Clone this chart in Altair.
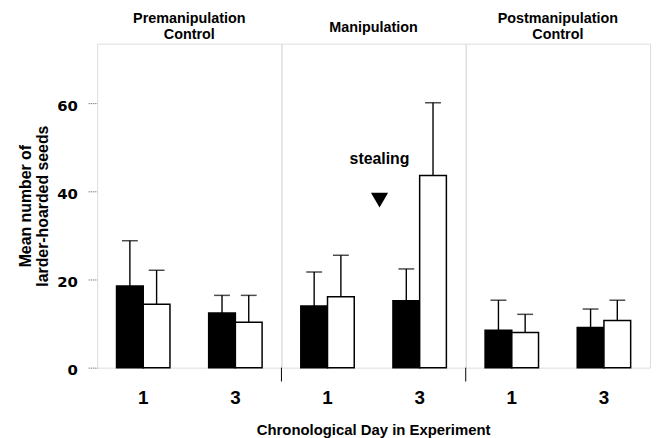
import altair as alt
import pandas as pd

# ---- data ----
panels = ["Premanipulation|Control", "Manipulation", "Postmanipulation|Control"]
days = ["1", "3"]
series = ["filled", "open"]

# order: (day1 filled, day1 open, day3 filled, day3 open)
pre_means = [18.5, 14.4, 12.4, 10.3]
pre_errs = [10.3, 7.7, 4.0, 6.1]
man_means = [14.0, 16.1, 15.2, 43.6]
man_errs = [7.7, 9.4, 7.2, 16.5]
post_means = [8.5, 8.0, 9.1, 10.7]
post_errs = [6.8, 4.1, 4.2, 4.6]

note_text = ["stealing"]
note_y = [47.4]
marker_y = [38.0]

# ---- table ----
rows = []
for p, ms, es in zip(panels, [pre_means, man_means, post_means], [pre_errs, man_errs, post_errs]):
    i = 0
    for d in days:
        for s in series:
            rows.append({"kind": "bar", "panel": p, "day": d, "series": s,
                         "mean": ms[i], "err": es[i]})
            i += 1
rows.append({"kind": "note", "panel": panels[1], "label": note_text[0], "ny": note_y[0], "my": marker_y[0]})
for p in panels[1:]:
    rows.append({"kind": "divider", "panel": p})
for p in panels:
    rows.append({"kind": "title2" if "|" in p else "title1", "panel": p, "label": p})
df = pd.DataFrame(rows)

FONT = "Liberation Sans"

x_enc = alt.X("day:N", scale=alt.Scale(domain=days, paddingInner=0.42, paddingOuter=0.21),
              axis=alt.Axis(title=None, labelAngle=0, labelFontSize=19, labelFontWeight="bold",
                            labelFont=FONT, labelPadding=21, ticks=False, domain=False,
                            labelColor="black"))
xo_enc = alt.XOffset("series:N", scale=alt.Scale(domain=series, paddingInner=0, paddingOuter=0))
y_scale = alt.Scale(domain=[0, 73.5], nice=False, zero=True)
y_axis = alt.Axis(values=[0, 20, 40, 60], title=["Mean number of", "larder-hoarded seeds"],
                  titleFont=FONT, titleFontSize=16, titleFontWeight="bold", titleColor="black",
                  titlePadding=6, titleLineHeight=17,
                  labelFont="DejaVu Sans", labelFontSize=15, labelFontWeight="bold",
                  labelColor="black", labelPadding=11, labelOffset=2, tickSize=9, tickDash=[1, 1],
                  tickColor="#555", domain=False, grid=False)

bars = alt.Chart().transform_filter(alt.datum.kind == "bar").mark_bar(
    stroke="black", strokeWidth=1.5).encode(
    x=x_enc, xOffset=xo_enc,
    y=alt.Y("mean:Q", scale=y_scale, axis=y_axis),
    fill=alt.Fill("series:N", scale=alt.Scale(domain=series, range=["#000000", "#ffffff"]), legend=None),
)

err = alt.Chart().transform_filter(alt.datum.kind == "bar").transform_calculate(
    top="datum.mean + datum.err").mark_rule(color="black", strokeWidth=1.4).encode(
    x=x_enc, xOffset=xo_enc, y=alt.Y("mean:Q"), y2="top:Q")

caps = alt.Chart().transform_filter(alt.datum.kind == "bar").transform_calculate(
    top="datum.mean + datum.err").mark_tick(color="black", thickness=1.5, size=16,
                                            orient="horizontal").encode(
    x=x_enc, xOffset=xo_enc, y=alt.Y("top:Q"))

note = alt.Chart().transform_filter(alt.datum.kind == "note").mark_text(
    font=FONT, fontSize=16, fontWeight="bold", color="black", baseline="middle").encode(
    x=alt.value(99), y=alt.Y("ny:Q"), text="label:N")

marker = alt.Chart().transform_filter(alt.datum.kind == "note").mark_point(
    shape="triangle-down", filled=True, color="black", size=300, opacity=1).encode(
    x=alt.value(99), y=alt.Y("my:Q"))

divider = alt.Chart().transform_filter(alt.datum.kind == "divider").mark_rule(
    color="black", strokeWidth=1).encode(
    x=alt.value(0), y=alt.value(327), y2=alt.value(341))

titles2 = alt.Chart().transform_filter(alt.datum.kind == "title2").mark_text(
    font=FONT, fontSize=14.5, fontWeight="bold", color="black", baseline="middle",
    align="center", lineBreak="|", lineHeight=16).encode(
    x=alt.value(93), y=alt.value(-25), text="label:N")

titles1 = alt.Chart().transform_filter(alt.datum.kind == "title1").mark_text(
    font=FONT, fontSize=14.5, fontWeight="bold", color="black", baseline="middle",
    align="center").encode(
    x=alt.value(93), y=alt.value(-16), text="label:N")

layered = alt.layer(bars, err, caps, note, marker, divider, titles2, titles1, data=df).properties(
    width=186, height=327)

chart = layered.facet(
    column=alt.Column("panel:N", sort=panels,
                      header=alt.Header(title="Chronological Day in Experiment", titleOrient="bottom",
                                        titleFont=FONT, titleFontSize=15, titleFontWeight="bold",
                                        titleColor="black", titlePadding=6,
                                        labels=False, labelOrient="top")),
    spacing=0,
    bounds="flush",
).configure_view(stroke="black", strokeWidth=1).configure(
    padding={"left": 10, "top": 0, "right": 0, "bottom": 0}, background="white")

chart.save("out.html", embed_options={"renderer": "svg", "actions": False})
